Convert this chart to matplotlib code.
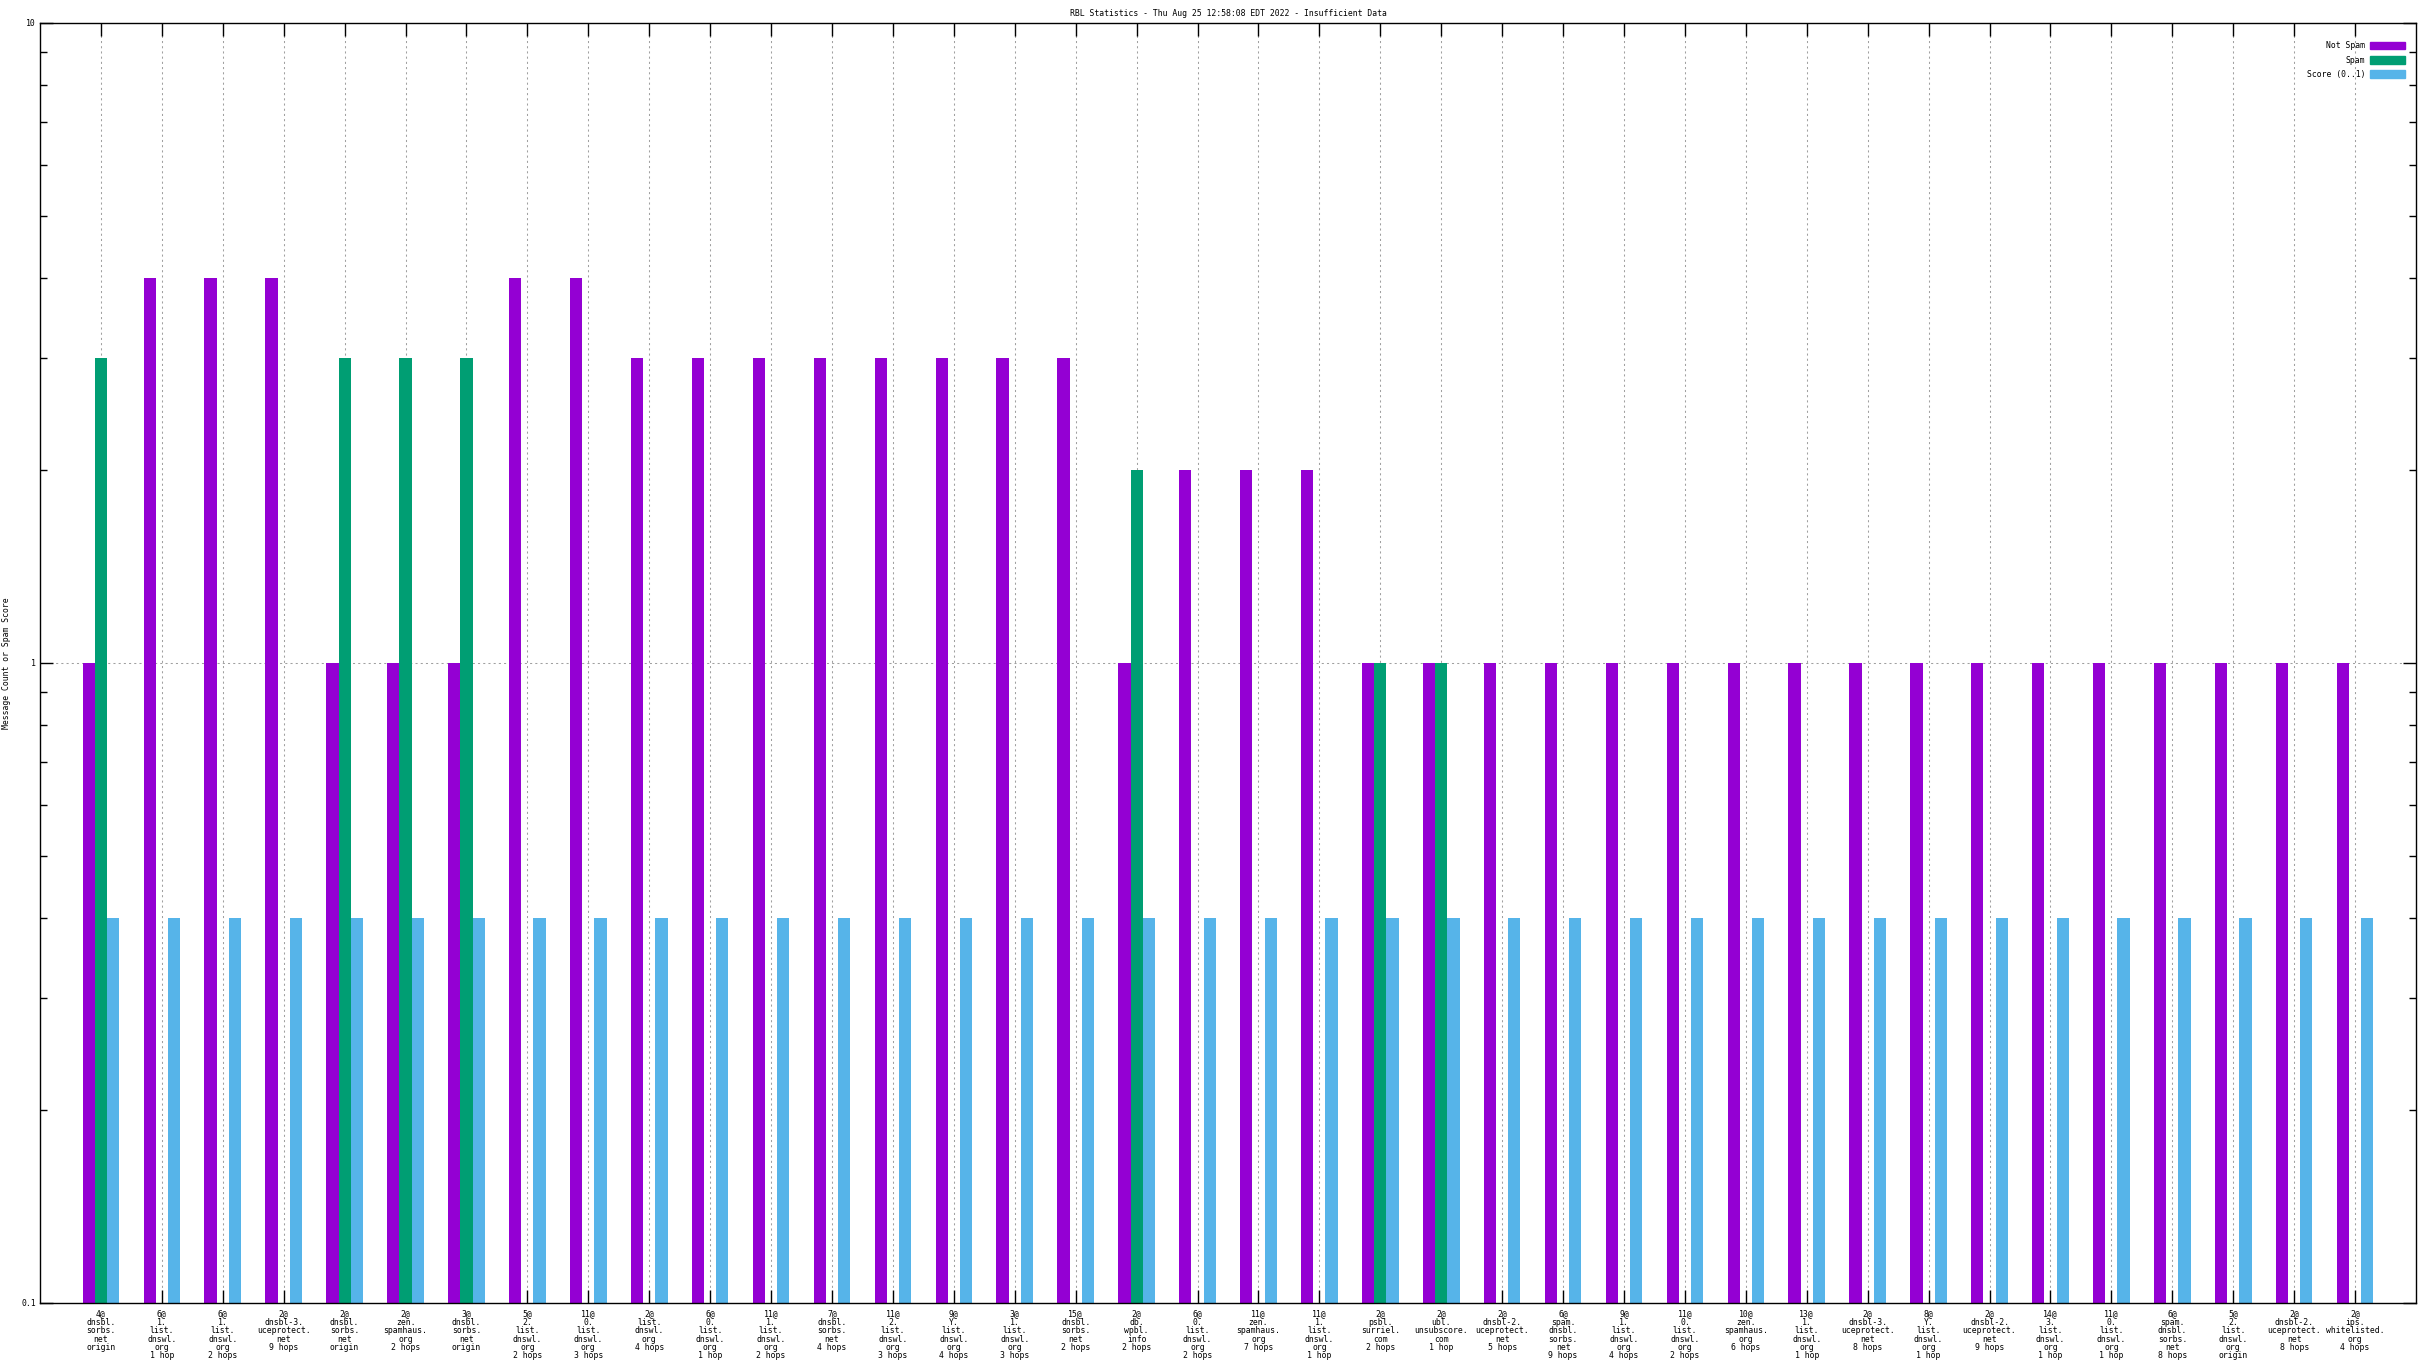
import numpy as np
import matplotlib
matplotlib.use('Agg')
import matplotlib.pyplot as plt
from matplotlib.patches import Patch
from matplotlib.ticker import FixedLocator, NullFormatter

# ---- data ----
counts = ['4@', '6@', '6@', '2@', '2@', '2@', '3@', '5@', '11@', '2@',
          '6@', '11@', '7@', '11@', '9@', '3@', '15@', '2@', '6@', '11@',
          '11@', '2@', '2@', '2@', '6@', '9@', '11@', '10@', '13@', '2@',
          '8@', '2@', '14@', '11@', '6@', '5@', '2@', '2@']
domains = ['dnsbl.sorbs.net', '1.list.dnswl.org', '1.list.dnswl.org',
           'dnsbl-3.uceprotect.net', 'dnsbl.sorbs.net', 'zen.spamhaus.org',
           'dnsbl.sorbs.net', '2.list.dnswl.org', '0.list.dnswl.org',
           'list.dnswl.org', '0.list.dnswl.org', '1.list.dnswl.org',
           'dnsbl.sorbs.net', '2.list.dnswl.org', 'Y.list.dnswl.org',
           '1.list.dnswl.org', 'dnsbl.sorbs.net', 'db.wpbl.info',
           '0.list.dnswl.org', 'zen.spamhaus.org', '1.list.dnswl.org',
           'psbl.surriel.com', 'ubl.unsubscore.com', 'dnsbl-2.uceprotect.net',
           'spam.dnsbl.sorbs.net', '1.list.dnswl.org', '0.list.dnswl.org',
           'zen.spamhaus.org', '1.list.dnswl.org', 'dnsbl-3.uceprotect.net',
           'Y.list.dnswl.org', 'dnsbl-2.uceprotect.net', '3.list.dnswl.org',
           '0.list.dnswl.org', 'spam.dnsbl.sorbs.net', '2.list.dnswl.org',
           'dnsbl-2.uceprotect.net', 'ips.whitelisted.org']
hops = ['origin', '1 hop', '2 hops', '9 hops', 'origin', '2 hops', 'origin',
        '2 hops', '3 hops', '4 hops', '1 hop', '2 hops', '4 hops', '3 hops',
        '4 hops', '3 hops', '2 hops', '2 hops', '2 hops', '7 hops', '1 hop',
        '2 hops', '1 hop', '5 hops', '9 hops', '4 hops', '2 hops', '6 hops',
        '1 hop', '8 hops', '1 hop', '9 hops', '1 hop', '1 hop', '8 hops',
        'origin', '8 hops', '4 hops']
not_spam = [1, 4, 4, 4, 1, 1, 1, 4, 4, 3, 3, 3, 3, 3, 3, 3, 3, 1, 2, 2,
            2, 1, 1, 1, 1, 1, 1, 1, 1, 1, 1, 1, 1, 1, 1, 1, 1, 1]
spam = [3, 0, 0, 0, 3, 3, 3, 0, 0, 0, 0, 0, 0, 0, 0, 0, 0, 2, 0, 0,
        0, 1, 1, 0, 0, 0, 0, 0, 0, 0, 0, 0, 0, 0, 0, 0, 0, 0]
score = [0.4] * 38

labels = [c + '\n' + d.replace('.', '.\n') + '\n' + h
          for c, d, h in zip(counts, domains, hops)]

C_NS = '#9400d3'
C_SP = '#009e73'
C_SC = '#56b4e9'
FONT = 'DejaVu Sans Mono'
FS = 5.9

fig = plt.figure(figsize=(24.32, 13.68), dpi=100)
W, H = 2432, 1368
ax = fig.add_axes([40 / W, 1 - 1303 / H, (2416 - 40) / W, (1303 - 23) / H])
ax.set_yscale('log')

x = np.arange(len(labels))
w = 0.2
ns = np.array(not_spam, dtype=float)
sp = np.array(spam, dtype=float)
sc = np.array(score, dtype=float)
m = sp > 0
ax.bar(x - w, ns, width=w, color=C_NS, zorder=2, linewidth=0)
ax.bar(x[m], sp[m], width=w, color=C_SP, zorder=2, linewidth=0)
ax.bar(x + w, sc, width=w, color=C_SC, zorder=2, linewidth=0)

ax.set_xlim(-1, 38)
ax.set_ylim(0.1, 10)

# dotted grid behind the bars
for xi in x:
    ax.axvline(xi, color='#a0a0a0', lw=0.75, ls=(0, (2, 3)), zorder=1)
ax.axhline(1, color='#a0a0a0', lw=0.75, ls=(0, (2, 3)), zorder=1)

# ticks
ax.set_xticks(x)
ax.set_xticklabels(labels, fontfamily=FONT, fontsize=FS, linespacing=0.92,
                   va='top')
ax.yaxis.set_major_locator(FixedLocator([0.1, 1, 10]))
ax.set_yticklabels(['0.1', '1', '10'], fontfamily=FONT, fontsize=FS)
minors = [k * d for d in (0.1, 1) for k in range(2, 10)]
ax.yaxis.set_minor_locator(FixedLocator(minors))
ax.yaxis.set_minor_formatter(NullFormatter())
ax.tick_params(axis='both', which='major', direction='in', length=9.5,
               width=1, top=True, right=True, pad=3)
ax.tick_params(axis='x', which='major', pad=4.5)
ax.tick_params(axis='y', which='minor', direction='in', length=4.8,
               width=1, right=True)
ax.tick_params(axis='x', which='minor', bottom=False, top=False)
for s in ax.spines.values():
    s.set_linewidth(1.0)

# title and y label
fig.text(1228 / W, 1 - 13 / H, 'RBL Statistics - Thu Aug 25 12:58:08 EDT 2022 - Insufficient Data',
         ha='center', va='center', fontfamily=FONT, fontsize=FS)
fig.text(7 / W, 1 - 663 / H, 'Message Count or Spam Score', rotation=90,
         ha='center', va='center', fontfamily=FONT, fontsize=FS)

# legend
handles = [Patch(color=C_NS, label='Not Spam'),
           Patch(color=C_SP, label='Spam'),
           Patch(color=C_SC, label='Score (0..1)')]
ax.legend(handles=handles, loc='upper right', frameon=False,
          markerfirst=False, prop={'family': FONT, 'size': FS},
          handlelength=4.2, handleheight=1.1, labelspacing=0.65,
          handletextpad=0.6, borderaxespad=0,
          bbox_to_anchor=(2408 / W, 1 - 38 / H),
          bbox_transform=fig.transFigure)

fig.savefig('out.png', dpi=100, facecolor='white')
